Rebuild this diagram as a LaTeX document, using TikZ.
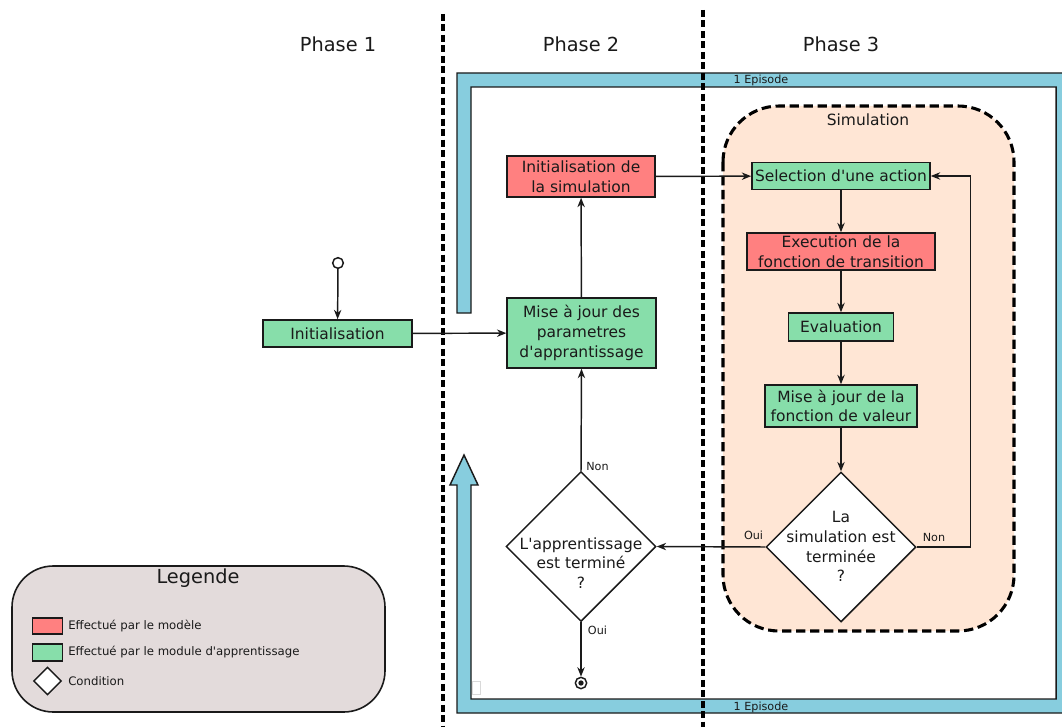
\documentclass[tikz,border=0pt]{standalone}
\usepackage{fontspec}
\setmainfont{DejaVu Sans}
\usetikzlibrary{shapes.geometric,arrows.meta}
\definecolor{cred}{HTML}{FF8080}
\definecolor{cgreen}{HTML}{87DEAA}
\definecolor{cblue}{HTML}{87CDDE}
\definecolor{cpeach}{HTML}{FFE6D5}
\definecolor{clegend}{HTML}{E3DBDB}
\definecolor{cline}{HTML}{1A1A1A}
\newcommand{\ap}{\textquotesingle}
\begin{document}
\begin{tikzpicture}[x=0.75pt,y=-0.75pt,
  box/.style={draw=cline,line width=1.2pt,inner sep=0pt,align=center,font=\fontsize{11.6}{14.8}\selectfont,text=cline},
  redbox/.style={box,fill=cred},
  greenbox/.style={box,fill=cgreen},
  cond/.style={diamond,draw=cline,line width=1.1pt,fill=white,inner sep=0pt},
  condtext/.style={align=center,font=\fontsize{11.6}{14.8}\selectfont,text=cline,inner sep=0pt},
  flow/.style={draw=cline,line width=1.1pt,-{Stealth[length=7pt,width=5.5pt,inset=2.2pt]}},
  small/.style={font=\fontsize{8.4}{10}\selectfont,text=cline,inner sep=0pt},
  phase/.style={font=\fontsize{14.5}{17}\selectfont,text=cline,inner sep=0pt},
  sep/.style={draw=black,line width=2.3pt,dash pattern=on 5.25pt off 2.6pt},
  legtext/.style={font=\fontsize{8.8}{10}\selectfont,text=cline,inner sep=0pt,anchor=west}
]
\useasboundingbox (0,0) rectangle (1062,727);

% episode band
\begin{scope}
\clip (0,0) rectangle (1062,727);
\draw[fill=cblue,draw=cline,line width=1.1pt]
  (457,313) -- (457,73) -- (1078,73) -- (1078,713) -- (457,713) -- (457,485)
  -- (450,485) -- (464,455) -- (478,485) -- (471,485) -- (471,699)
  -- (1056,699) -- (1056,87) -- (471,87) -- (471,313) -- cycle;
\end{scope}
\draw[gray!30,line width=0.5pt] (472,681) rectangle (480,694);
\node[small] (ep1) at (761,80) {1 Episode};
\node[small] (ep2) at (761,707) {1 Episode};

% separators
\coordinate (s1a) at (443,14);
\coordinate (s1b) at (443,727);
\coordinate (s2a) at (703,10);
\coordinate (s2b) at (703,727);
\draw[sep] (s1a) -- (s1b);
\draw[sep] (s2a) -- (s2b);

% phases
\node[phase] (p1) at (338,44) {Phase 1};
\node[phase] (p2) at (581,44) {Phase 2};
\node[phase] (p3) at (841,44) {Phase 3};

% simulation region
\draw[fill=cpeach,draw=black,line width=2.3pt,dash pattern=on 7pt off 3.5pt,rounded corners=42pt]
  (723,106) rectangle (1014,631);
\node[condtext] (simlab) at (868,120) {Simulation};

% nodes
\node[circle,draw=cline,line width=1.1pt,fill=white,minimum size=8pt,inner sep=0pt] (start) at (338,263) {};
\node[greenbox,minimum width=111.5pt,minimum height=20.25pt] (init) at (337.5,333.5) {Initialisation};
\node[greenbox,minimum width=111.5pt,minimum height=52.5pt] (mise) at (581.5,333) {Mise à jour des\\parametres\\d\ap apprantissage};
\node[redbox,minimum width=111pt,minimum height=30.75pt] (isim) at (581,176.5) {Initialisation de\\la simulation};
\node[greenbox,minimum width=133.5pt,minimum height=20.5pt] (sel) at (841,176) {Selection d\ap une action};
\node[redbox,minimum width=141pt,minimum height=27.75pt] (exe) at (841,251.5) {Execution de la\\fonction de transition};
\node[greenbox,minimum width=79pt,minimum height=21pt] (eva) at (841,327) {Evaluation};
\node[greenbox,minimum width=114pt,minimum height=31.5pt] (mval) at (841,406) {Mise à jour de la\\fonction de valeur};
\node[cond,minimum width=112.5pt,minimum height=112.5pt] (d2) at (841,547) {};
\node[condtext] (d2t) at (841,546.5) {La\\simulation est\\terminée\\?};
\node[cond,minimum width=112.5pt,minimum height=112.5pt] (d1) at (581,546.5) {};
\node[condtext] (d1t) at (581,563) {L\ap apprentissage\\est terminé\\?};
\node[circle,draw=cline,line width=1.1pt,fill=white,minimum size=8.5pt,inner sep=0pt] (end) at (581,683) {};
\node[circle,fill=cline,minimum size=4pt,inner sep=0pt] (enddot) at (581,683) {};

% connectors
\draw[flow] (start) -- (init);
\draw[flow] (init) -- (mise);
\draw[flow] (mise) -- (isim);
\draw[flow] (isim) -- (sel);
\draw[flow] (sel) -- (exe);
\draw[flow] (exe) -- (eva);
\draw[flow] (eva) -- (mval);
\draw[flow] (mval) -- (d2);
\draw[flow] (d2.east) -- ++(54,0) |- (sel.east);
\draw[flow] (d2.west) -- (d1.east);
\draw[flow] (d1.north) -- (mise.south);
\draw[flow] (d1.south) -- (end);

\node[small] (lnon1) at (597.5,466) {Non};
\node[small] (loui1) at (597.5,630) {Oui};
\node[small] (loui2) at (753.5,535) {Oui};
\node[small] (lnon2) at (934,537) {Non};

% legend
\draw[fill=clegend,draw=cline,line width=1.2pt,rounded corners=31pt] (12,566) rectangle (385,712);
\node[phase] (legt) at (198,578) {Legende};
\node[draw=cline,line width=1.1pt,fill=cred,minimum width=22.5pt,minimum height=12pt,inner sep=0pt] (lr) at (47.5,626) {};
\node[draw=cline,line width=1.1pt,fill=cgreen,minimum width=22.5pt,minimum height=12.75pt,inner sep=0pt] (lg) at (47.5,652.5) {};
\node[cond,minimum width=21pt,minimum height=21pt] (ld) at (47.5,681) {};
\node[legtext] (lrt) at (68,626) {Effectué par le modèle};
\node[legtext] (lgt) at (68,652) {Effectué par le module d\ap apprentissage};
\node[legtext] (ldt) at (68,681) {Condition};
\end{tikzpicture}
\end{document}
